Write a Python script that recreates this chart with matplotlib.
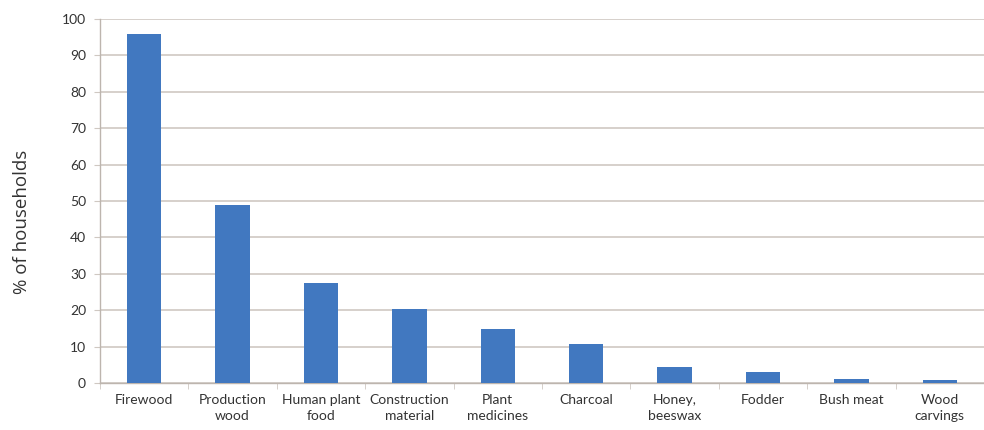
import matplotlib.pyplot as plt
import numpy as np

# Datos
categories = ['Firewood', 'Production\nwood', 'Human plant\nfood', 'Construction\nmaterial',
              'Plant\nmedicines', 'Charcoal', 'Honey,\nbeeswax', 'Fodder', 'Bush meat',
              'Wood\ncarvings']
households_pct = [96, 49, 27.4, 20.2, 14.8, 10.6, 4.5, 3.1, 1.1, 0.7]
y_ticks = list(range(0, 101, 10))

bar_color = '#4178c0'
grid_color = '#cfc8c2'
text_color = '#333333'

fig = plt.figure(figsize=(9.84, 4.30), dpi=100)
ax = fig.add_axes([0.1016, 0.1093, 0.8984, 0.8465])

x = np.arange(len(categories))
ax.bar(x, households_pct, width=0.39, color=bar_color, zorder=3)

ax.set_xlim(-0.5, len(categories) - 0.5)
ax.set_ylim(0, 100)
ax.set_yticks(y_ticks)
ax.set_yticklabels([str(t) for t in y_ticks], fontsize=10, family='Lato', color=text_color)
ax.yaxis.grid(True, color=grid_color, linewidth=1.2, zorder=0)

# etiquetas en el centro, marcas en los limites de categoria
ax.set_xticks(x)
ax.set_xticklabels(categories, fontsize=10, family='Lato', color=text_color, linespacing=1.35)
ax.tick_params(axis='x', length=0, pad=8)
ax.set_xticks(np.arange(len(categories) + 1) - 0.5, minor=True)
ax.tick_params(axis='x', which='minor', length=4, color=grid_color, direction='out')
ax.tick_params(axis='y', length=4, color=grid_color, pad=6)

for side in ['top', 'right']:
    ax.spines[side].set_visible(False)
for side in ['left', 'bottom']:
    ax.spines[side].set_color('#bdb5ae')
    ax.spines[side].set_linewidth(1.0)

fig.text(0.022, 0.485, '% of households', rotation=90, fontsize=13.5,
         family='Open Sans', color=text_color, ha='center', va='center')

fig.savefig('out.png', dpi=100)
